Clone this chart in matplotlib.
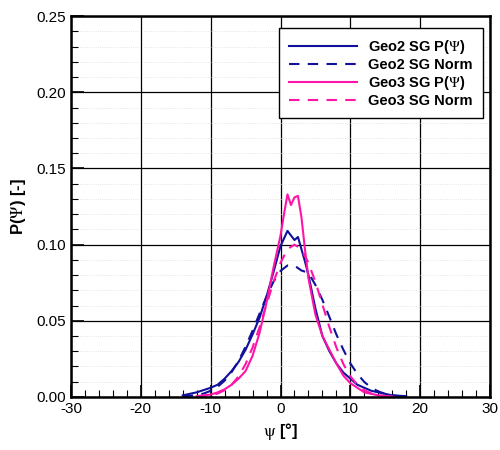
import matplotlib
matplotlib.use("Agg")
from matplotlib import pyplot as plt
from matplotlib.ticker import MultipleLocator, FormatStrFormatter

plt.rcParams["font.family"] = ["Liberation Sans", "DejaVu Sans"]
plt.rcParams["mathtext.fontset"] = "stix"
plt.rcParams["axes.unicode_minus"] = False

# Geo2 SG P(psi), solid blue
geo2_x = [-14, -12, -10, -9, -8, -7, -6, -5, -4, -3, -2, -1, 0, 0.5, 1, 1.5, 2, 2.5,
          3, 3.5, 4, 5, 6, 7, 8, 9, 10, 11, 12, 13, 14, 15, 16, 18]
geo2_p = [0.001, 0.003, 0.006, 0.008, 0.012, 0.017, 0.023, 0.031, 0.041, 0.052, 0.066,
          0.082, 0.099, 0.104, 0.109, 0.106, 0.103, 0.105, 0.097, 0.089, 0.080, 0.058,
          0.040, 0.030, 0.022, 0.016, 0.012, 0.008, 0.006, 0.004, 0.003, 0.002, 0.001, 0.0005]

# Geo2 SG Norm, dashed blue
geo2n_x = list(range(-14, 18))
geo2n_p = [0.0004, 0.0007, 0.0012, 0.0022, 0.004, 0.0066, 0.0107, 0.0163, 0.0237, 0.0330,
           0.0435, 0.0547, 0.0660, 0.0757, 0.0827, 0.0863, 0.0862, 0.0830, 0.0815, 0.0735,
           0.0637, 0.0525, 0.041, 0.031, 0.022, 0.0152, 0.0098, 0.006, 0.0036, 0.002,
           0.0011, 0.0005]

# Geo3 SG P(psi), solid pink
geo3_x = [-12, -10, -9, -8, -7, -6, -5, -4, -3, -2, -1, 0, 0.5, 1, 1.5, 2, 2.5, 3, 3.5,
          4, 5, 6, 7, 8, 9, 10, 11, 12, 13, 14, 16]
geo3_p = [0.0005, 0.0015, 0.003, 0.005, 0.008, 0.012, 0.017, 0.027, 0.042, 0.062, 0.085,
          0.106, 0.120, 0.133, 0.126, 0.131, 0.132, 0.118, 0.097, 0.078, 0.054, 0.040,
          0.031, 0.022, 0.014, 0.009, 0.006, 0.003, 0.002, 0.001, 0.0003]

# Geo3 SG Norm, dashed pink
geo3n_x = list(range(-12, 17))
geo3n_p = [0.0002, 0.0005, 0.0011, 0.0022, 0.0044, 0.008, 0.0135, 0.0216, 0.0325, 0.0458,
           0.0607, 0.0755, 0.088, 0.097, 0.100, 0.097, 0.088, 0.0755, 0.0607, 0.0458,
           0.0325, 0.0216, 0.0135, 0.008, 0.0044, 0.0023, 0.0011, 0.0005, 0.0002]

blue = "#10109c"
pink = "#ff14a8"

fig = plt.figure(figsize=(5, 4.5), dpi=100)
ax = fig.add_axes([0.142, 0.118, 0.838, 0.846])

ax.plot(geo2_x, geo2_p, color=blue, lw=1.5, label=r"Geo2 SG P($\Psi$)")
ax.plot(geo2n_x, geo2n_p, color=blue, lw=1.5, ls=(0, (5, 4)), label="Geo2 SG Norm")
ax.plot(geo3_x, geo3_p, color=pink, lw=1.5, label=r"Geo3 SG P($\Psi$)")
ax.plot(geo3n_x, geo3n_p, color=pink, lw=1.5, ls=(0, (5, 4)), label="Geo3 SG Norm")

ax.set_xlim(-30, 30)
ax.set_ylim(0, 0.25)
ax.xaxis.set_major_locator(MultipleLocator(10))
ax.xaxis.set_minor_locator(MultipleLocator(2))
ax.yaxis.set_major_locator(MultipleLocator(0.05))
ax.yaxis.set_minor_locator(MultipleLocator(0.01))
ax.yaxis.set_major_formatter(FormatStrFormatter("%.2f"))

ax.grid(True, which="major", color="black", lw=0.9)
ax.grid(True, which="minor", axis="y", color="#dddddd", lw=0.6, ls=":")
ax.set_axisbelow(True)

ax.tick_params(which="both", direction="in", labelsize=11)
ax.tick_params(which="major", length=9, width=1.2)
ax.tick_params(which="minor", length=5, width=0.8)
for s in ax.spines.values():
    s.set_linewidth(1.8)

ax.set_xlabel(r"$\mathrm{\psi}$ [°]", fontsize=12, fontweight="bold", labelpad=4)
ax.set_ylabel(r"P($\Psi$) [-]", fontsize=12, fontweight="bold", labelpad=6)

leg = ax.legend(loc="upper right", bbox_to_anchor=(0.983, 0.9685), borderaxespad=0,
                fancybox=False, framealpha=1, edgecolor="black", handlelength=4.6,
                prop={"weight": "bold", "size": 10.5}, borderpad=0.7,
                labelspacing=0.12, handletextpad=0.8)
leg.get_frame().set_linewidth(1.0)

fig.savefig("out.png", dpi=100)
